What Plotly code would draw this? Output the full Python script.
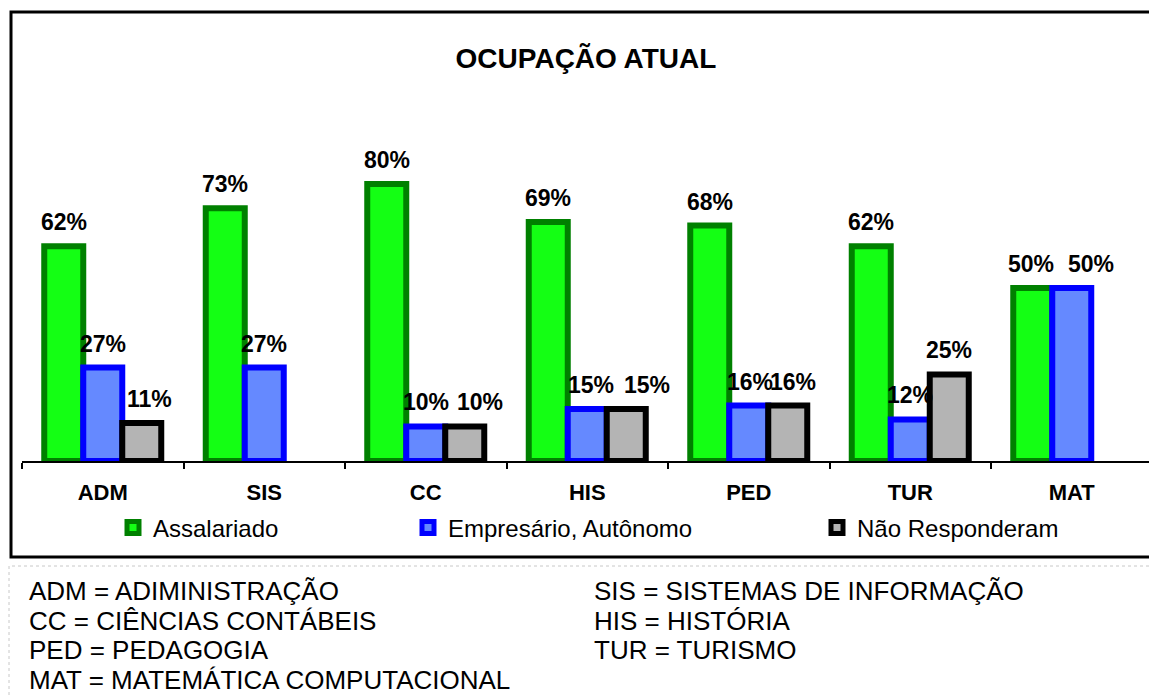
import plotly.graph_objects as go

# categorias e valores (%)
cursos = ["ADM", "SIS", "CC", "HIS", "PED", "TUR", "MAT"]
assalariado = [62, 73, 80, 69, 68, 62, 50]
empresario = [27, 27, 10, 15, 16, 12, 50]
nao_resp = [11, None, 10, 15, 16, 25, None]

titulo = "OCUPAÇÃO ATUAL"
nomes = ["Assalariado", "Empresário, Autônomo", "Não Responderam"]

legenda_esq = ["ADM = ADIMINISTRAÇÃO", "CC = CIÊNCIAS CONTÁBEIS",
               "PED = PEDAGOGIA", "MAT = MATEMÁTICA COMPUTACIONAL"]
legenda_dir = ["SIS = SISTEMAS DE INFORMAÇÃO", "HIS = HISTÓRIA",
               "TUR = TURISMO"]

W, H = 1149, 696
L, T, B = 22, 100, 461   # plot area in pixels
PX_UNIT = 3.4625        # pixels per percent
CAT_W = 161.5
GAP = 0.2755
SLOT = CAT_W * (1 - GAP) / 3
FONT = "Liberation Sans, Arial, sans-serif"

# deslocamentos manuais de alguns rótulos (como no gráfico original)
ajuste = {(2, "ADM"): 8, (2, "CC"): 15, (1, "HIS"): 4, (2, "HIS"): 21,
          (1, "PED"): 1, (2, "PED"): 5, (0, "MAT"): -2, (1, "MAT"): 19}


def px_x(p):
    return (p - L) / (W - L)


def px_y(p):
    return (B - p) / (B - T)


fig = go.Figure()
estilos = [("#14FF14", "#008000"), ("#6589FF", "#0000FF"), ("#B4B4B4", "#000000")]
series = [assalariado, empresario, nao_resp]
for i, (nome, vals, (fill, borda)) in enumerate(zip(nomes, series, estilos)):
    fig.add_trace(go.Bar(
        x=cursos, y=vals, name=nome,
        marker=dict(color=fill, line=dict(color=borda, width=6)),
        legend="legend" if i == 0 else f"legend{i + 1}",
        showlegend=True, hoverinfo="skip",
    ))

annotations = []
# rótulos de valor acima das barras
for i, vals in enumerate(series):
    for cat, v in zip(cursos, vals):
        if v is None:
            continue
        annotations.append(dict(
            text=f"{v}%", x=cat, y=v, xref="x", yref="y",
            xanchor="center", yanchor="bottom", showarrow=False,
            xshift=(i - 1) * SLOT + ajuste.get((i, cat), 0), yshift=9,
            font=dict(family=FONT, size=23, color="black", weight="bold")))

leg_x = [113, 408, 817]
leg = {}
for i, lx in enumerate(leg_x):
    key = "legend" if i == 0 else f"legend{i + 1}"
    leg[key] = dict(x=px_x(lx), y=px_y(528), xanchor="left", yanchor="middle",
                    orientation="h", bgcolor="rgba(0,0,0,0)",
                    font=dict(family=FONT, size=24, color="black"))

shapes = [
    dict(type="rect", xref="paper", yref="paper",
         x0=px_x(11), x1=px_x(1170), y0=px_y(557), y1=px_y(12),
         line=dict(color="black", width=3)),
    dict(type="rect", xref="paper", yref="paper",
         x0=px_x(9), x1=px_x(1170), y0=px_y(710), y1=px_y(566),
         line=dict(color="#C8C8C8", width=1, dash="dot")),
]

for j, linha in enumerate(legenda_esq):
    annotations.append(dict(text=linha, xref="paper", yref="paper",
                            x=px_x(27), y=px_y(591 + j * 29.7),
                            xanchor="left", yanchor="middle", showarrow=False,
                            font=dict(family=FONT, size=26, color="black")))
for j, linha in enumerate(legenda_dir):
    annotations.append(dict(text=linha, xref="paper", yref="paper",
                            x=px_x(592), y=px_y(591 + j * 29.7),
                            xanchor="left", yanchor="middle", showarrow=False,
                            font=dict(family=FONT, size=26, color="black")))

fig.update_layout(
    width=W, height=H,
    margin=dict(l=L, r=0, t=T, b=H - B),
    paper_bgcolor="white", plot_bgcolor="white",
    barmode="group", bargap=GAP, bargroupgap=0,
    title=dict(text=titulo, x=586 / W, xanchor="center",
               y=1 - 58 / H, yanchor="middle",
               font=dict(family=FONT, size=28, color="black", weight="bold")),
    xaxis=dict(range=[-0.5, -0.5 + (W - L) / CAT_W], showline=True,
               linecolor="black", linewidth=2, ticks="outside",
               tickson="boundaries", ticklen=6, tickwidth=2, tickcolor="black",
               showgrid=False, ticklabelstandoff=11,
               tickfont=dict(family=FONT, size=22, color="black", weight="bold")),
    yaxis=dict(range=[0, (B - T) / PX_UNIT], visible=False, showgrid=False,
               zeroline=False),
    shapes=shapes, annotations=annotations,
    **leg,
)

# sem margem do body, para a figura ocupar a janela toda
fig.write_html("out.html", config={"displayModeBar": False},
               post_script="document.body.style.margin='0';")
